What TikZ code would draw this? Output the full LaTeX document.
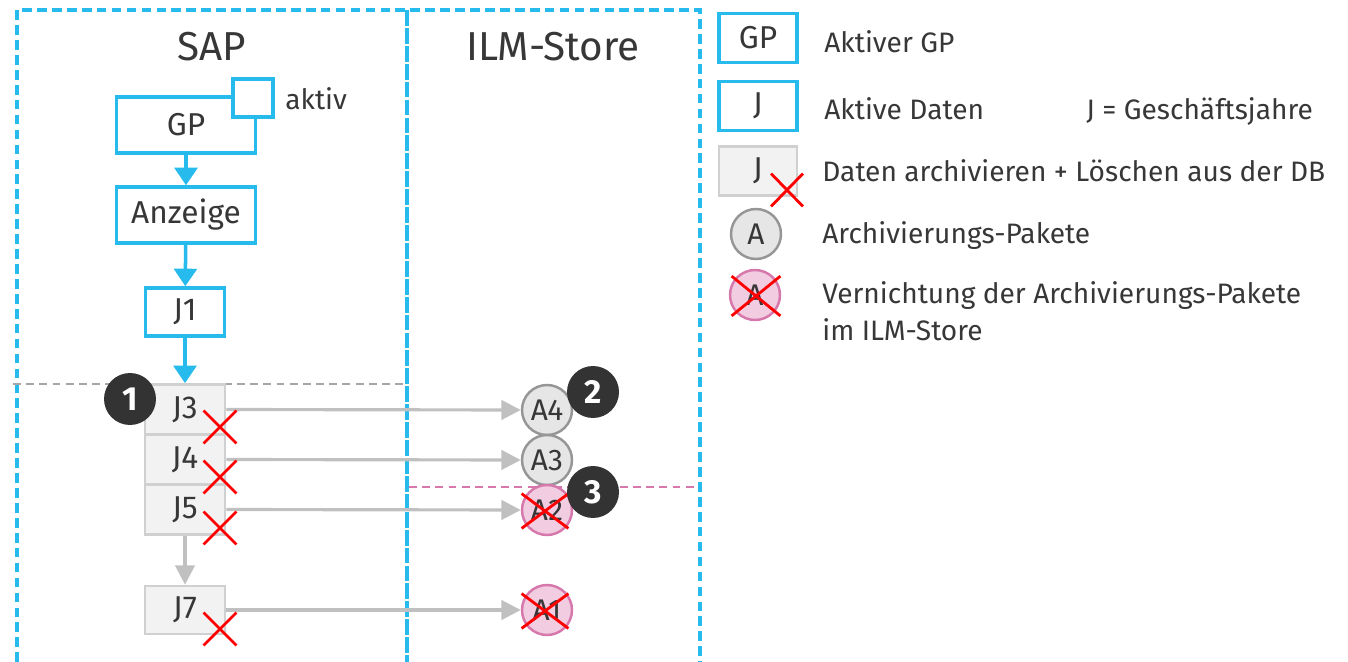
\documentclass[tikz,border=0pt]{standalone}
\usepackage{fontspec}
\setmainfont{Fira Sans}
\usetikzlibrary{arrows.meta,shapes.misc}
\definecolor{sapblue}{RGB}{38,187,236}
\definecolor{txtgray}{RGB}{55,55,55}
\definecolor{boxgray}{RGB}{208,208,208}
\definecolor{boxfill}{RGB}{242,242,242}
\definecolor{arrowgray}{RGB}{192,192,192}
\definecolor{packgray}{RGB}{150,150,150}
\definecolor{packfill}{RGB}{230,230,230}
\definecolor{pinkline}{RGB}{214,120,172}
\definecolor{pinkfill}{RGB}{242,204,224}
\definecolor{badgegray}{RGB}{51,51,51}
\begin{document}
\begin{tikzpicture}[x=0.02cm,y=-0.02cm,text=txtgray,
  font=\fontsize{16}{20.5}\selectfont,
  activebox/.style={draw=sapblue,line width=2pt,fill=white,inner sep=0pt,
    font=\fontsize{18}{20}\selectfont},
  oldbox/.style={draw=boxgray,fill=boxfill,line width=1.5pt,inner sep=0pt,
    minimum width=1.6cm,minimum height=1cm,font=\fontsize{18}{20}\selectfont},
  pack/.style={circle,draw=packgray,fill=packfill,line width=1.4pt,
    inner sep=0pt,minimum size=1cm,font=\fontsize{17}{20}\selectfont},
  gone/.style={circle,draw=pinkline,fill=pinkfill,line width=1.4pt,
    inner sep=0pt,minimum size=1cm,font=\fontsize{17}{20}\selectfont},
  redx/.style={cross out,draw=red,line width=1.6pt,inner sep=0pt},
  badge/.style={circle,fill=badgegray,text=white,inner sep=0pt,
    minimum size=1.04cm,font=\bfseries\fontsize{19}{20}\selectfont},
  blueflow/.style={draw=sapblue,line width=2pt,-{Triangle[width=13pt,length=10pt]}},
  grayflow/.style={draw=arrowgray,line width=1.8pt,-{Triangle[width=11pt,length=11pt]}},
  lbl/.style={anchor=base west,inner sep=0pt}]
\useasboundingbox (0,0) rectangle (1348,662);

% frames
\draw[sapblue,line width=2pt,dash pattern=on 5.5pt off 3pt] (17,662) -- (17,10) -- (700,10) -- (700,662);
\draw[sapblue,line width=2pt,dash pattern=on 9pt off 1.2pt] (407,10) -- (407,662);
\draw[gray!70,line width=1.5pt,dash pattern=on 4.5pt off 3pt] (13,384) -- (405,384);
\draw[pinkline,line width=1.5pt,dash pattern=on 4.5pt off 3pt] (409,487) -- (698,487);

\node[font=\fontsize{23}{26}\selectfont] (sap) at (212,47) {SAP};
\node[font=\fontsize{23}{26}\selectfont] (ilm) at (553,47) {ILM-Store};

% SAP side
\node[activebox,minimum width=2.78cm,minimum height=1.12cm] (gp) at (186,125) {GP};
\node[activebox,minimum width=0.8cm,minimum height=0.76cm] (akt) at (253,98) {};
\node[lbl] (aktiv) at (285,110) {aktiv};
\node[activebox,minimum width=2.78cm,minimum height=1.12cm] (anz) at (186,215) {Anzeige};
\node[activebox,minimum width=1.58cm,minimum height=0.96cm] (j1) at (185,312) {J1};
\node[oldbox] (j3) at (185,409.5) {J3};
\node[oldbox] (j4) at (185,459.5) {J4};
\node[oldbox] (j5) at (185,509.5) {J5};
\node[oldbox,minimum height=0.96cm] (j7) at (185,610) {J7};

\draw[blueflow] (gp) -- (anz);
\draw[blueflow] (anz) -- (j1);
\draw[blueflow] (j1) -- (j3);
\draw[grayflow] (j5) -- (j7);

% ILM side
\node[pack] (a4) at (547,410) {A4};
\node[pack] (a3) at (547,460) {A3};
\node[gone] (a2) at (547,510) {A2};
\node[gone] (a1) at (547,610) {A1};

\draw[grayflow] (j3.east) -- (a4.west);
\draw[grayflow] (j4.east) -- (a3.west);
\draw[grayflow] (j5.east) -- (a2.west);
\draw[grayflow] (j7.east) -- (a1.west);

\node[redx,minimum width=0.6cm,minimum height=0.6cm] (x3) at (220,427) {};
\node[redx,minimum width=0.6cm,minimum height=0.6cm] (x4) at (220,477) {};
\node[redx,minimum width=0.6cm,minimum height=0.6cm] (x5) at (220,528) {};
\node[redx,minimum width=0.6cm,minimum height=0.6cm] (x7) at (220,629) {};
\node[redx,minimum width=0.88cm,minimum height=0.64cm] (xa2) at (545,511) {};
\node[redx,minimum width=0.88cm,minimum height=0.64cm] (xa1) at (545,611) {};

\node[badge] (b1) at (130,399) {1};
\node[badge] (b2) at (593,392) {2};
\node[badge] (b3) at (593,492) {3};

% legend
\node[activebox,minimum width=1.56cm,minimum height=0.98cm] (lgp) at (758,38) {GP};
\node[lbl] (tgp) at (824,53) {Aktiver GP};
\node[activebox,minimum width=1.56cm,minimum height=0.98cm] (lj) at (758,106) {J};
\node[lbl] (tj) at (824,120) {Aktive Daten};
\node[lbl] (tgj) at (1086,120) {J = Geschäftsjahre};
\node[oldbox,minimum width=1.56cm,minimum height=0.98cm] (ljo) at (758,171) {J};
\node[redx,minimum width=0.58cm,minimum height=0.6cm] (lx) at (787,190) {};
\node[lbl] (tjo) at (822,182) {Daten archivieren + Löschen aus der DB};
\node[pack] (la) at (756,234) {A};
\node[lbl] (ta) at (822,243) {Archivierungs-Pakete};
\node[gone] (lag) at (755,295) {A};
\node[redx,minimum width=0.92cm,minimum height=0.74cm] (lxa) at (756,296) {};
\node[lbl,align=left] (tag) at (822,340) {Vernichtung der Archivierungs-Pakete\\im ILM-Store};
\end{tikzpicture}
\end{document}
